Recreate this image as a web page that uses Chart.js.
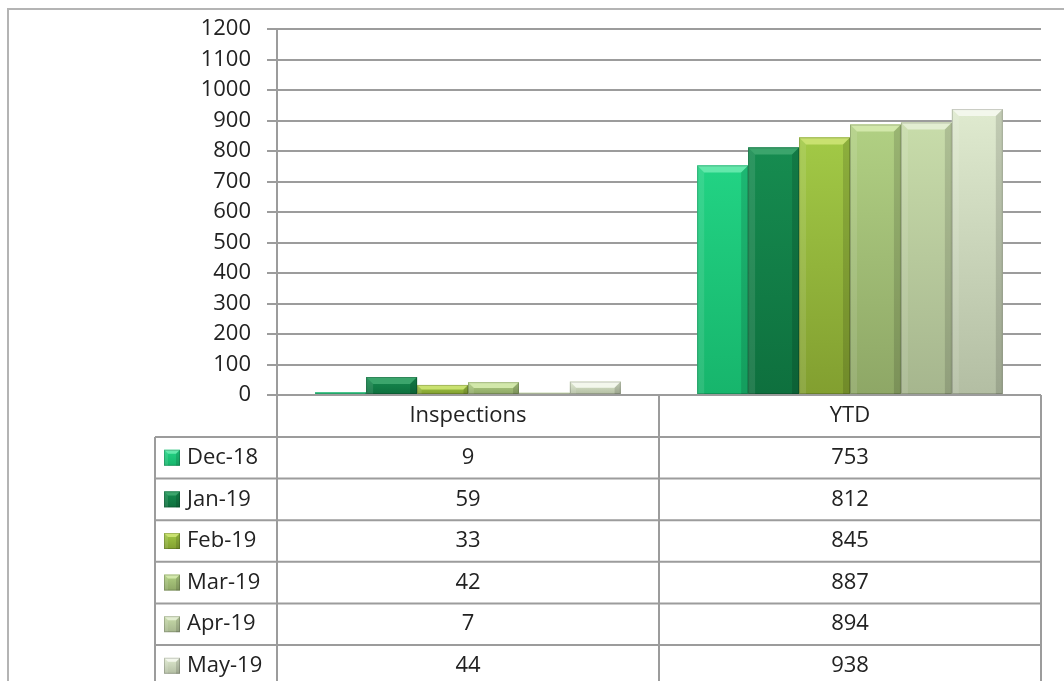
<!DOCTYPE html>
<html>
<head>
<meta charset="utf-8">
<script src="https://cdn.jsdelivr.net/npm/chart.js@4.4.0/dist/chart.umd.min.js"></script>
<style>
html,body{margin:0;padding:0;background:#fff;}
#wrap{width:1064px;height:681px;position:relative;}
</style>
</head>
<body>
<div id="wrap"><canvas id="c"></canvas></div>
<script>
// data
var months = ['Dec-18', 'Jan-19', 'Feb-19', 'Mar-19', 'Apr-19', 'May-19'];
var categories = ['Inspections', 'YTD'];
var inspections = [9, 59, 33, 42, 7, 44];
var ytd = [753, 812, 845, 887, 894, 938];
var yMax = 1200, yStep = 100;

// top / bottom / bevel colour for each month
var shades = [
    ['#22d384', '#17b56c', '#63e8ab'],
    ['#168c50', '#0e703e', '#3ba56c'],
    ['#a2c946', '#829f30', '#c9e170'],
    ['#b1d083', '#8ea766', '#d2e8aa'],
    ['#c8dcaa', '#a6b68e', '#e3eed2'],
    ['#dfeacf', '#b3bea3', '#f3f7ec']
];

var FONT = '"Open Sans", sans-serif';
var FSIZE = 22;
var LINE = '#9c9c9c';
var TEXT = '#222';

function fillBar(ctx, left, top, right, bottom, i){
    var h = bottom - top;
    if(h <= 0) return;
    var g = ctx.createLinearGradient(0, top, 0, bottom);
    g.addColorStop(0, shades[i][0]);
    g.addColorStop(1, shades[i][1]);
    ctx.fillStyle = g;
    ctx.fillRect(left, top, right - left, h);
    var bev = Math.min(7, h / 2, (right - left) / 4);
    // top bevel
    ctx.fillStyle = shades[i][2];
    ctx.beginPath();
    ctx.moveTo(left, top);
    ctx.lineTo(right, top);
    ctx.lineTo(right - bev, top + bev);
    ctx.lineTo(left + bev, top + bev);
    ctx.closePath();
    ctx.fill();
    // right side shade
    ctx.fillStyle = 'rgba(0,0,0,0.13)';
    ctx.beginPath();
    ctx.moveTo(right, top);
    ctx.lineTo(right, bottom);
    ctx.lineTo(right - bev, bottom);
    ctx.lineTo(right - bev, top + bev);
    ctx.closePath();
    ctx.fill();
    // left side light
    ctx.fillStyle = 'rgba(255,255,255,0.10)';
    ctx.beginPath();
    ctx.moveTo(left, top);
    ctx.lineTo(left + bev, top + bev);
    ctx.lineTo(left + bev, bottom);
    ctx.lineTo(left, bottom);
    ctx.closePath();
    ctx.fill();
    ctx.strokeStyle = 'rgba(0,0,0,0.18)';
    ctx.lineWidth = 1;
    ctx.strokeRect(left + 0.5, top + 0.5, right - left - 1, h - 1);
}

var bevelPlugin = {
    id: 'bevel',
    afterDatasetsDraw: function(chart){
        var ctx = chart.ctx;
        ctx.save();
        for(var i = 0; i < chart.data.datasets.length; i++){
            var meta = chart.getDatasetMeta(i);
            for(var j = 0; j < meta.data.length; j++){
                var p = meta.data[j].getProps(['x', 'y', 'base', 'width'], true);
                fillBar(ctx, p.x - p.width / 2, p.y, p.x + p.width / 2, p.base, i);
            }
        }
        ctx.restore();
    }
};

var framePlugin = {
    id: 'frame',
    beforeDraw: function(chart){
        var ctx = chart.ctx;
        ctx.save();
        ctx.strokeStyle = '#b4b4b4';
        ctx.lineWidth = 2;
        ctx.beginPath();
        ctx.moveTo(8, chart.height);
        ctx.lineTo(8, 9);
        ctx.lineTo(chart.width, 9);
        ctx.stroke();
        ctx.restore();
    }
};

var tablePlugin = {
    id: 'dataTable',
    afterDraw: function(chart){
        var ctx = chart.ctx, a = chart.chartArea, x = chart.scales.x;
        var L = a.left, R = a.right, T = a.bottom;
        var M = (x.getPixelForValue(0) + x.getPixelForValue(1)) / 2;
        var headH = 42, rowH = 41.6, legL = 155;
        var bottom = chart.height;
        ctx.save();
        ctx.strokeStyle = LINE;
        ctx.lineWidth = 2;
        ctx.beginPath();
        ctx.moveTo(L, T); ctx.lineTo(R, T);
        for(var k = 0; k <= months.length; k++){
            var yy = T + headH + k * rowH;
            ctx.moveTo(legL, yy); ctx.lineTo(R, yy);
        }
        ctx.moveTo(L, T); ctx.lineTo(L, bottom);
        ctx.moveTo(M, T); ctx.lineTo(M, bottom);
        ctx.moveTo(R, T); ctx.lineTo(R, bottom);
        ctx.moveTo(legL, T + headH); ctx.lineTo(legL, bottom);
        ctx.stroke();

        ctx.fillStyle = TEXT;
        ctx.font = FSIZE + 'px ' + FONT;
        ctx.textBaseline = 'middle';
        ctx.textAlign = 'center';
        for(var c = 0; c < categories.length; c++){
            ctx.fillText(categories[c], x.getPixelForValue(c), T + headH / 2);
        }
        for(var i = 0; i < months.length; i++){
            var cy = T + headH + i * rowH + rowH / 2;
            ctx.textAlign = 'center';
            ctx.fillStyle = TEXT;
            ctx.fillText(String(inspections[i]), x.getPixelForValue(0), cy);
            ctx.fillText(String(ytd[i]), x.getPixelForValue(1), cy);
            fillBar(ctx, legL + 9, cy - 8, legL + 25, cy + 8, i);
            ctx.textAlign = 'left';
            ctx.fillStyle = TEXT;
            ctx.fillText(months[i], legL + 32, cy);
        }
        ctx.restore();
    }
};

var datasets = [];
for(var i = 0; i < months.length; i++){
    datasets.push({
        label: months[i],
        data: [inspections[i], ytd[i]],
        backgroundColor: shades[i][0],
        borderWidth: 0
    });
}

new Chart(document.getElementById('c'), {
    type: 'bar',
    data: { labels: categories, datasets: datasets },
    options: {
        responsive: true,
        maintainAspectRatio: false,
        animation: false,
        devicePixelRatio: 1,
        layout: { padding: { left: 0, top: 26, right: 23, bottom: 286 } },
        datasets: { bar: { barPercentage: 1, categoryPercentage: 0.8 } },
        plugins: { legend: { display: false }, tooltip: { enabled: false } },
        scales: {
            x: {
                ticks: { display: false },
                grid: { display: false, drawTicks: false },
                border: { display: false },
                afterFit: function(s){ s.height = 0; }
            },
            y: {
                min: 0,
                max: yMax,
                ticks: {
                    stepSize: yStep, color: TEXT, padding: 16,
                    font: { family: FONT, size: FSIZE },
                    callback: function(v){ return String(v); }
                },
                grid: { color: LINE, lineWidth: 2, tickLength: 10 },
                border: { display: true, color: LINE, width: 2 },
                afterFit: function(s){ s.width = 277; }
            }
        }
    },
    plugins: [framePlugin, bevelPlugin, tablePlugin]
});
</script>
</body>
</html>
